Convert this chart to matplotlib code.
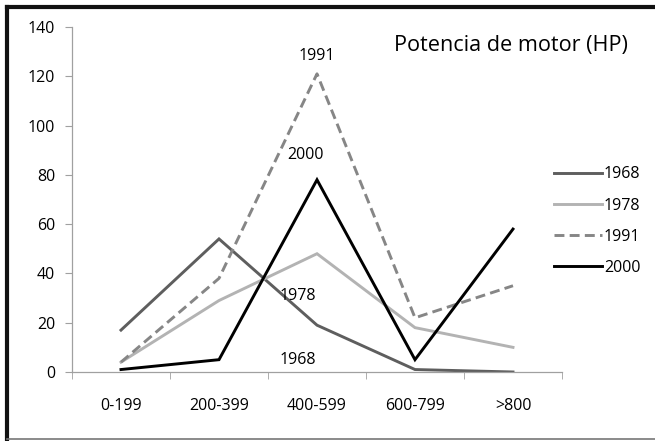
import matplotlib.pyplot as plt
from matplotlib.lines import Line2D

plt.rcParams['font.family'] = ['Open Sans', 'DejaVu Sans']

categories = ["0-199", "200-399", "400-599", "600-799", ">800"]
years = ["1968", "1978", "1991", "2000"]
v1968 = [17, 54, 19, 1, 0]
v1978 = [4, 29, 48, 18, 10]
v1991 = [4, 38, 121, 22, 35]
v2000 = [1, 5, 78, 5, 58]

series = [v1968, v1978, v1991, v2000]
colors = ["#5e5e5e", "#b3b3b3", "#868686", "#000000"]
styles = ["-", "-", (0, (3.4, 1.8)), "-"]
FS = 11.5

W, H = 655, 441
fig = plt.figure(figsize=(W / 100, H / 100), dpi=100)
ax = fig.add_axes([72 / W, 1 - 372 / H, 490 / W, 345 / H])

x = list(range(len(categories)))
for vals, yr, c, ls in zip(series, years, colors, styles):
    ax.plot(x, vals, color=c, lw=2.1, ls=ls, label=yr, solid_joinstyle="miter")

ax.set_xlim(-0.5, len(categories) - 0.5)
ax.set_ylim(0, 140)
ax.set_yticks(range(0, 141, 20))
ax.set_xticks(x)
ax.set_xticklabels(categories)
ax.set_xticks([i - 0.5 for i in range(len(categories) + 1)], minor=True)
ax.tick_params(axis="x", which="major", length=0, pad=19, labelsize=FS)
ax.tick_params(axis="x", which="minor", length=5, color="#a0a0a0", direction="out")
ax.tick_params(axis="y", length=5, color="#a0a0a0", labelsize=FS, pad=7)
for s in ["top", "right"]:
    ax.spines[s].set_visible(False)
for s in ["left", "bottom"]:
    ax.spines[s].set_color("#a0a0a0")
    ax.spines[s].set_linewidth(0.9)

# year labels next to the lines
ax.text(2, v1991[2] + 4, "1991", ha="center", va="bottom", fontsize=FS)
ax.text(1.88, v2000[2] + 7, "2000", ha="center", va="bottom", fontsize=FS)
ax.text(1.8, 31, "1978", ha="center", va="center", fontsize=FS)
ax.text(1.8, 5, "1968", ha="center", va="center", fontsize=FS)

fig.text(628 / W, 1 - 45 / H, "Potencia de motor (HP)", ha="right", va="center", fontsize=15.6)

handles = [Line2D([], [], color=c, lw=2.1, ls=ls) for c, ls in zip(colors, styles)]
fig.legend(handles, years, loc="upper left", bbox_to_anchor=(548 / W, 1 - 160 / H),
           frameon=False, fontsize=FS, handlelength=3.0, handletextpad=0.1,
           labelspacing=0.95, borderaxespad=0)

# outer frame
fig.add_artist(Line2D([7 / W, 7 / W], [1 - 7 / H, 1 - 439 / H], color="#111111", lw=3,
                      transform=fig.transFigure))
fig.add_artist(Line2D([7 / W, 1], [1 - 7 / H, 1 - 7 / H], color="#111111", lw=3,
                      transform=fig.transFigure))
fig.add_artist(Line2D([7 / W, 1], [1 - 439 / H, 1 - 439 / H], color="#777777", lw=1.2,
                      transform=fig.transFigure))

fig.savefig("out.png", dpi=100)
